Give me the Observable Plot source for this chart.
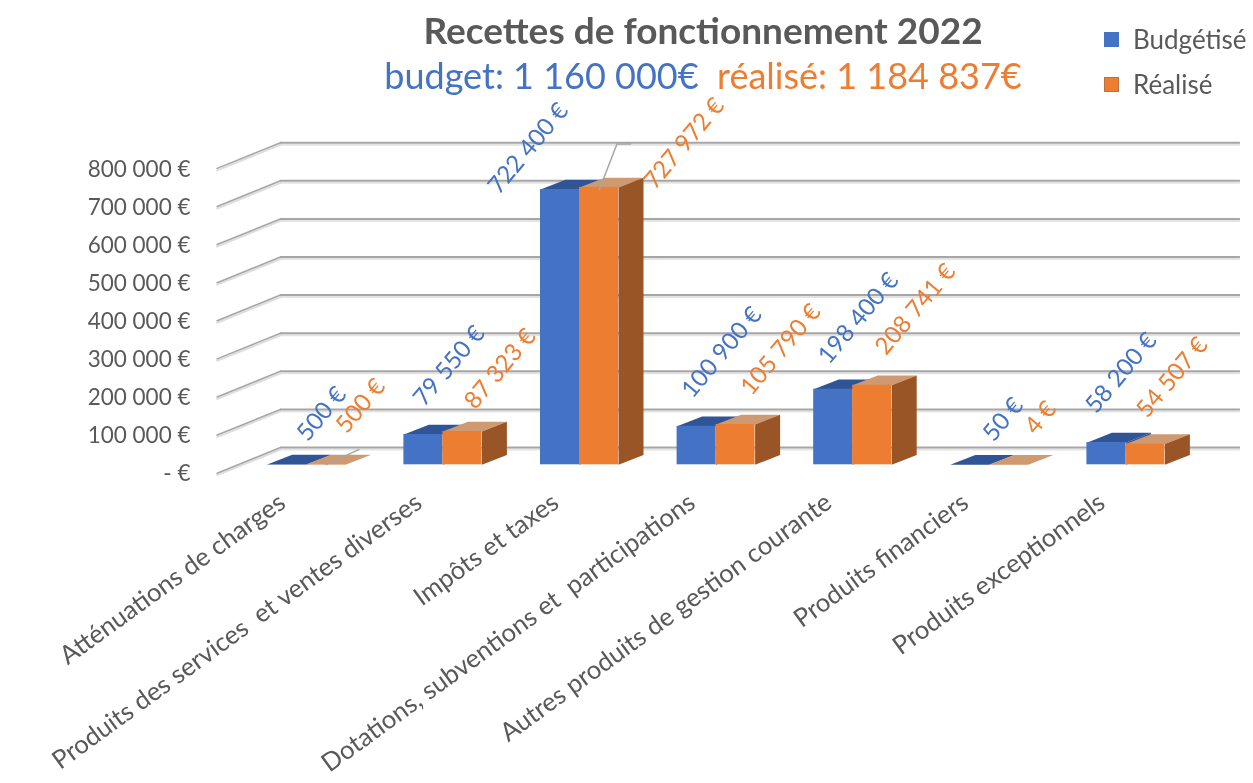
<!DOCTYPE html>
<html lang="fr"><head><meta charset="utf-8">
<script src="https://cdn.jsdelivr.net/npm/d3@7"></script>
<script src="https://cdn.jsdelivr.net/npm/@observablehq/plot@0.6"></script>
<style>
html,body{margin:0;padding:0;background:#fff;overflow:hidden;width:1253px;height:783px;font-family:Lato,sans-serif}
#head{position:relative;height:90px;width:1253px;z-index:2;filter:blur(.4px)}
#head div{position:absolute;white-space:nowrap;line-height:1}
#t1{left:703px;top:11px;transform:translateX(-50%);font-size:37px;font-weight:700;color:#595959}
#t2{left:703px;top:57px;transform:translateX(-50%);font-size:36px;}
.sw{width:15px;height:15px}
.lg{font-size:26px;color:#595959;left:1133px}
#chart{position:absolute;left:0;top:90px;filter:blur(.4px)}
</style></head><body>
<div id="head">
<div id="t1">Recettes de fonctionnement 2022</div>
<div id="t2"><span style="color:#4472C4">budget: 1 160 000€</span>&nbsp; <span style="color:#ED7D31">réalisé: 1 184 837€</span></div>
<div class="sw" style="left:1104px;top:32px;background:#4472C4"></div>
<div class="lg" style="top:26px">Budgétisé</div>
<div class="sw" style="left:1104px;top:77px;background:#ED7D31;box-shadow:inset 0 0 0 1px #b9713f"></div>
<div class="lg" style="top:71px">Réalisé</div>
</div>
<div id="chart"></div>
<script>
const categories = ["Atténuations de charges","Produits des services  et ventes diverses","Impôts et taxes","Dotations, subventions et  participations","Autres produits de gestion courante","Produits financiers","Produits exceptionnels"];
const budget = [500,79550,722400,100900,198400,50,58200];
const realise = [500,87323,727972,105790,208741,50,54507];
const realiseLabels = [500,87323,727972,105790,208741,4,54507];
const yTicks = [0,100000,200000,300000,400000,500000,600000,700000,800000];
// hand-placed label nudges, px, relative to the top of each bar
const budgetNudge = [[15,-27],[-5,-32],[-67,1],[-10,-32],[-10,-29],[18,-27],[-16,-33]];
const realiseNudge = [[15,-35],[7,-26],[50,-2],[10,-33],[8,-34],[21,-34],[-4,-30]];
const leaders = [[[0.43,600],[0.67,40000]],[[2.43,722000],[2.56,842000],[2.66,842000]]];

const K = 0.000381;            // px per euro
const STEP = 136.6;            // px per category
const X0 = 266.8;
const W = 1253, H = 693, MB = 288, ML = 190;
const zeroY = 374.3;
const barW = 39 / STEP, depthX = 25 / STEP, depthY = 9.8 / K;
const wallX0 = -0.367, wallX1 = 0.0965, wallX2 = 7.124, wallFront = -22000, wallBack = 45400;

const fmt = v => v === 0 ? "- €" : d3.format(",")(v).replace(/,/g, " ") + " €";
const frontRows = (vals, off) => vals.map((v, i) => ({x1: i + off * barW, x2: i + (off + 1) * barW, y1: 0, y2: v}));
const poly = (vals, off, kind) => vals.flatMap((v, i) => {
  const a = i + off * barW, b = a + barW;
  const pts = kind === "top"
    ? [[a, v], [b, v], [b + depthX, v + depthY], [a + depthX, v + depthY]]
    : [[b, 0], [b + depthX, depthY], [b + depthX, v + depthY], [b, v]];
  return pts.map(([x, y]) => ({id: i, x, y}));
});
const faces = (vals, off, front, top, side) => [
  Plot.line(poly(vals, off, "top"), {x: "x", y: "y", z: "id", curve: "linear-closed", fill: top, stroke: "none"}),
  Plot.line(poly(vals, off, "side"), {x: "x", y: "y", z: "id", curve: "linear-closed", fill: side, stroke: "none"}),
  Plot.rect(frontRows(vals, off), {x1: "x1", x2: "x2", y1: "y1", y2: "y2", fill: front, inset: 0})
];
const labelRows = (vals, shown, nudge, off) => vals.map((v, i) => ({
  x: i + (off + 0.5) * barW + nudge[i][0] / STEP,
  y: v - nudge[i][1] / K,
  t: fmt(shown[i])
}));
const diag = yTicks.flatMap(v => [{v, x: wallX0, y: v + wallFront}, {v, x: wallX1, y: v + wallBack}]);
const leaderRows = leaders.flatMap((l, id) => l.map(([x, y]) => ({id, x, y})));

const chart = Plot.plot({
  width: W, height: H, marginLeft: ML, marginRight: 0, marginTop: 0, marginBottom: MB,
  style: {background: "transparent", overflow: "visible", fontFamily: "Lato, sans-serif"},
  x: {type: "linear", domain: [(ML - X0) / STEP, (W - X0) / STEP]},
  y: {type: "linear", domain: [-(H - MB - zeroY) / K, zeroY / K]},
  marks: [
    Plot.ruleY(yTicks, {y: d => d + wallBack, x1: wallX1, x2: wallX2, stroke: "#e3e3e3", strokeWidth: 2, dy: 2}),
    Plot.ruleY(yTicks, {y: d => d + wallBack, x1: wallX1, x2: wallX2, stroke: "#a6a6a6", strokeWidth: 2}),
    Plot.line(diag, {x: "x", y: "y", z: "v", stroke: "#dedede", strokeWidth: 2, dy: 2}),
    Plot.line(diag, {x: "x", y: "y", z: "v", stroke: "#a6a6a6", strokeWidth: 1.6}),
    ...faces(budget, 0, "#4472C4", "#2F5597", "#2F5597"),
    ...faces(realise, 1, "#ED7D31", "#CF9A70", "#9A5527"),
    Plot.line(leaderRows, {x: "x", y: "y", z: "id", stroke: "#a6a6a6", strokeWidth: 1.5}),
    Plot.text(labelRows(budget, budget, budgetNudge, 0), {x: "x", y: "y", text: "t", rotate: -50, textAnchor: "start", fill: "#4472C4", fontSize: 24}),
    Plot.text(labelRows(realise, realiseLabels, realiseNudge, 1), {x: "x", y: "y", text: "t", rotate: -50, textAnchor: "start", fill: "#ED7D31", fontSize: 24}),
    Plot.axisY({ticks: yTicks, tickFormat: fmt, tickSize: 0, tickPadding: 0, dy: 9.4, label: null, fontSize: 22.5, color: "#595959"}),
    Plot.axisX({ticks: categories.map((c, i) => i + 0.11), tickFormat: d => categories[Math.round(d - 0.11)], tickSize: 0, tickPadding: 4, tickRotate: -36, textAnchor: "end", label: null, fontSize: 25.6, color: "#595959"})
  ]
});
document.getElementById("chart").append(chart);
</script>
</body></html>
